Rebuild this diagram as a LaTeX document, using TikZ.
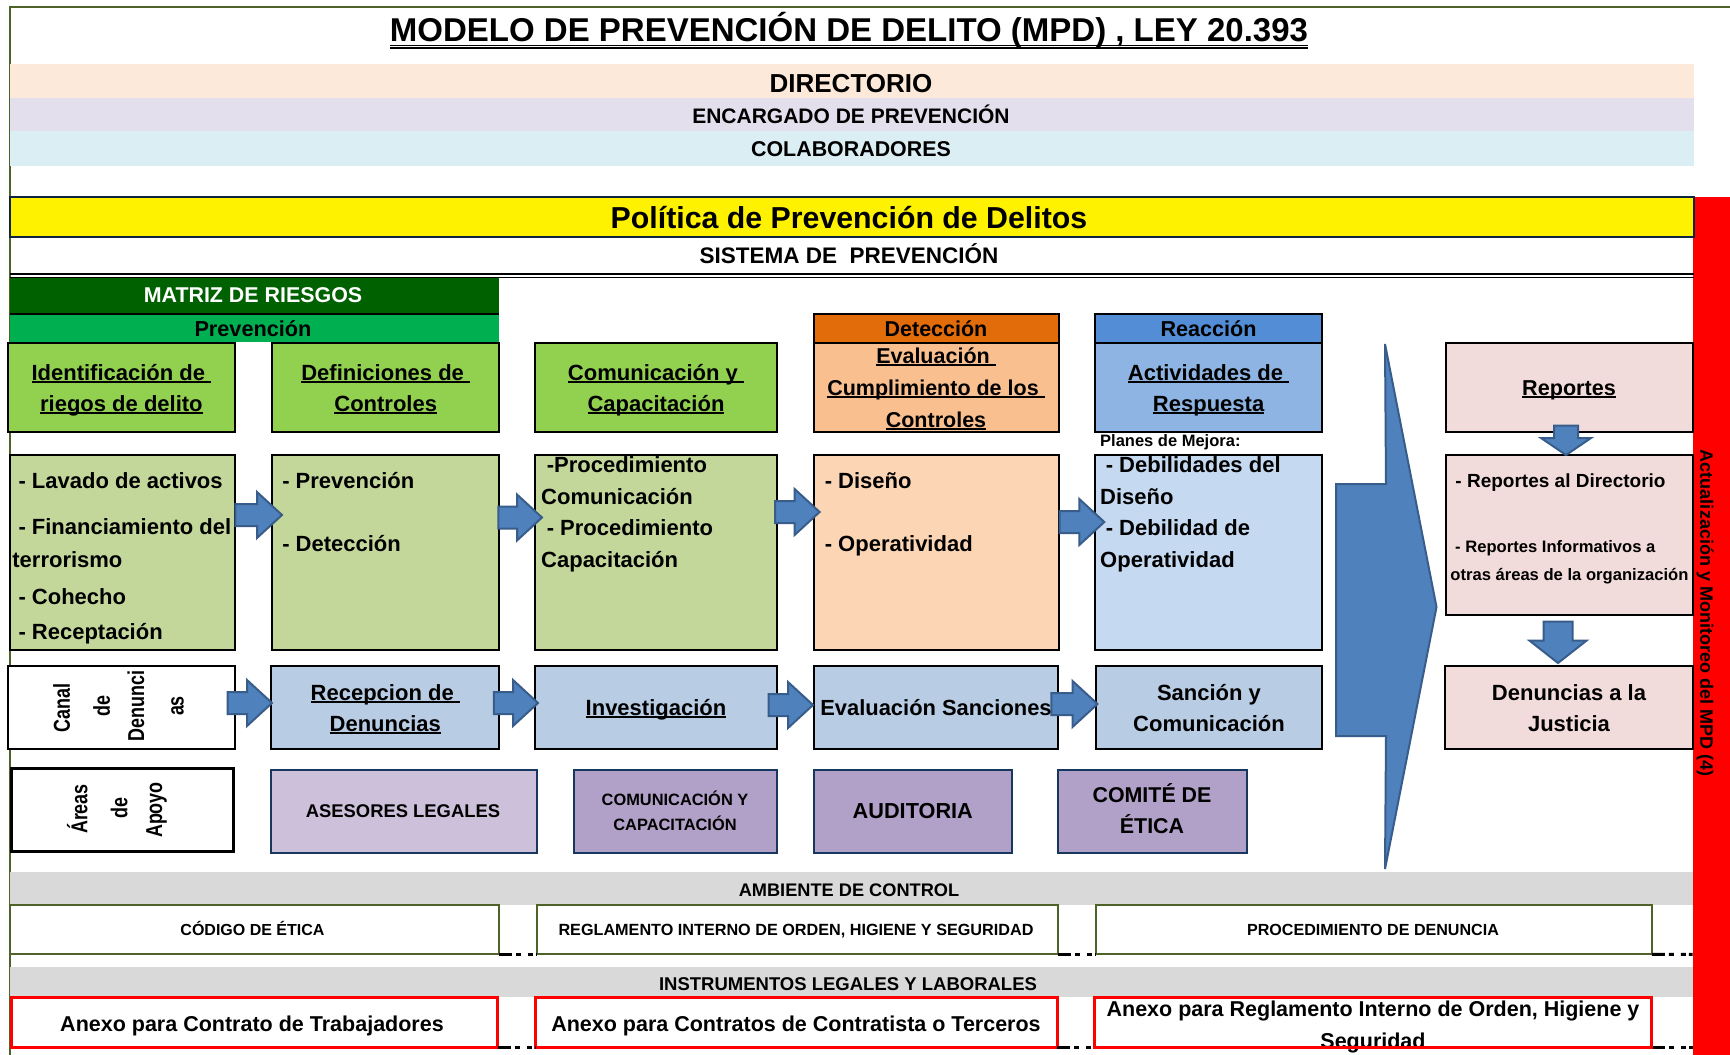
\documentclass[tikz,border=0pt]{standalone}
\usepackage{fontspec}
\setmainfont{Liberation Sans}
\usetikzlibrary{calc}
\definecolor{cOlive}{HTML}{4F6228}
\definecolor{cPeach}{HTML}{FDE9D9}
\definecolor{cLav}{HTML}{E4DFEC}
\definecolor{cLBlue}{HTML}{DAEEF3}
\definecolor{cNavy}{HTML}{0F243E}
\definecolor{cDGreen}{HTML}{006100}
\definecolor{cGreen}{HTML}{00B050}
\definecolor{cLime}{HTML}{92D050}
\definecolor{cLimeL}{HTML}{C4D79B}
\definecolor{cOrange}{HTML}{E26B0A}
\definecolor{cOrM}{HTML}{FABF8F}
\definecolor{cOrL}{HTML}{FCD5B4}
\definecolor{cBlueH}{HTML}{538DD5}
\definecolor{cBlueM}{HTML}{8DB4E2}
\definecolor{cBlueL}{HTML}{C5D9F1}
\definecolor{cBlueC}{HTML}{B8CCE4}
\definecolor{cPink}{HTML}{F2DCDB}
\definecolor{cPurL}{HTML}{CCC0DA}
\definecolor{cPur}{HTML}{B1A0C7}
\definecolor{cPurB}{HTML}{17375E}
\definecolor{cGray}{HTML}{D9D9D9}
\definecolor{cArrow}{HTML}{4F81BD}
\definecolor{cArrowD}{HTML}{385D8A}
\newcommand\fsz[1]{\fontsize{#1pt}{#1pt}\selectfont\bfseries}
\newcommand\narw[1]{\scalebox{0.78}[1]{#1}}
\newsavebox\ulbox
\newcommand\uln[1]{\sbox\ulbox{#1}\rlap{\rule[-2.7pt]{\wd\ulbox}{2pt}}\usebox\ulbox}
\newcommand\bx[6]{\node[bxs,#6,minimum width={#4-#2},minimum height={#5-#3}] (#1) at ({(#2+#4)/2},{(#3+#5)/2}) {};}
\newcommand\rarrow[5]{\draw[barrow] let \p1=($#1+(#3,0)$), \p2=($#2+(#4,0)$), \p3=(0,#5) in
  (\x1,\y3+11pt) -- (\x2-25pt,\y3+11pt) -- (\x2-25pt,\y3+23pt) -- (\x2,\y3) -- (\x2-25pt,\y3-23pt) -- (\x2-25pt,\y3-11pt) -- (\x1,\y3-11pt) -- cycle;}
\newcommand\darrow[8]{\draw[barrow] let \p1=($#1+(0,#3)$), \p2=($#2+(0,#4)$), \p3=(#5,0) in
  (\x3-#6pt,\y1) -- (\x3-#6pt,\y2+#8pt) -- (\x3-#7pt,\y2+#8pt) -- (\x3,\y2) -- (\x3+#7pt,\y2+#8pt) -- (\x3+#6pt,\y2+#8pt) -- (\x3+#6pt,\y1) -- cycle;}
\begin{document}
\begin{tikzpicture}[x=1pt,y=-1pt,
  bxs/.style={inner sep=0pt,outer sep=0pt,line width=2pt},
  blk/.style={draw=black,line width=2pt},
  pur/.style={draw=cPurB,line width=2pt},
  txt/.style={inner sep=0pt,anchor=base,text=black},
  ltxt/.style={inner sep=0pt,anchor=base west,text=black},
  vtxt/.style={inner sep=0pt,anchor=center,rotate=90,text=black},
  barrow/.style={fill=cArrow,draw=cArrowD,line width=2pt,line join=miter},
  ddline/.style={line width=3pt,black,dash pattern=on 13pt off 4pt on 5pt off 7pt on 5pt off 3pt}]
\useasboundingbox (0,0) rectangle (1730,1055);
\fill[white] (0,0) rectangle (1730,1055);
% outer border
\draw[cOlive,line width=2pt] (1730,7) -- (9.5,7) -- (9.5,1055);
% title
\node[txt,font=\fsz{33}] (title) at (849,41.7) {MODELO DE PREVENCIÓN DE DELITO (MPD) , LEY 20.393};
\draw[line width=1.3pt] ([yshift=-3.6pt]title.base west) -- ([yshift=-3.6pt]title.base east);
\draw[line width=1.3pt] ([yshift=-6.2pt]title.base west) -- ([yshift=-6.2pt]title.base east);
% bands
\bx{dir}{9.5}{64}{1694}{97.7}{fill=cPeach}
\bx{enc}{9.5}{97.7}{1694}{131}{fill=cLav}
\bx{col}{9.5}{131}{1694}{165.7}{fill=cLBlue}
\bx{red}{1692.5}{197}{1730}{1056}{fill=red}
\bx{pol}{9.5}{197}{1694}{236.7}{fill=yellow,draw=cNavy}
\bx{sis}{9.5}{236.7}{1694}{274}{}
\draw[line width=1.8pt] (sis.south west) -- (sis.south east);
\draw[line width=1.8pt] ([yshift=-3.5pt]sis.south west) -- ([yshift=-3.5pt]sis.south east);
\bx{mat}{9.5}{277.5}{499.4}{314}{fill=cDGreen}
\bx{prev}{9.5}{314}{499.4}{341.7}{fill=cGreen}
\draw[line width=2pt] (mat.south west) -- (mat.south east);
\bx{det}{814}{314}{1058.5}{342.7}{fill=cOrange,blk}
\bx{reac}{1095.3}{314}{1322}{342.7}{fill=cBlueH,blk}
% top row
\bx{t1}{7.5}{342.7}{235.3}{431.7}{fill=cLime,blk}
\bx{t2}{272}{342.7}{499.4}{431.7}{fill=cLime,blk}
\bx{t3}{535.3}{342.7}{777.2}{431.7}{fill=cLime,blk}
\bx{t4}{814}{342.7}{1058.5}{431.7}{fill=cOrM,blk}
\bx{t5}{1095.3}{342.7}{1322}{431.7}{fill=cBlueM,blk}
\bx{t6}{1445.6}{342.7}{1692.7}{431.7}{fill=cPink,blk}
% lower row
\bx{l1}{10.4}{455}{235.3}{650}{fill=cLimeL,blk}
\bx{l2}{272}{455}{499.4}{650}{fill=cLimeL,blk}
\bx{l3}{535.3}{455}{777.2}{650}{fill=cLimeL,blk}
\bx{l4}{814}{455}{1058.5}{650}{fill=cOrL,blk}
\bx{l5}{1095.3}{455}{1322}{650}{fill=cBlueL,blk}
\bx{l6}{1445.6}{455}{1692.7}{615}{fill=cPink,blk}
% canal row
\bx{c1}{7.5}{665.7}{234.5}{749.3}{fill=white,blk}
\bx{c2}{271.3}{665.7}{499.4}{749.3}{fill=cBlueC,blk}
\bx{c3}{535.4}{665.7}{776.8}{749.3}{fill=cBlueC,blk}
\bx{c4}{814}{665.7}{1058}{749.3}{fill=cBlueC,blk}
\bx{c5}{1095.8}{665.7}{1322}{749.3}{fill=cBlueC,blk}
\bx{c6}{1445.4}{665.7}{1693}{749.3}{fill=cPink,blk}
% areas row
\bx{a1}{11.7}{768.3}{233.3}{851}{fill=white,draw=black,line width=3pt}
\bx{a2}{271.3}{770}{537}{852.7}{fill=cPurL,pur}
\bx{a3}{574.3}{770}{776.8}{852.7}{fill=cPur,pur}
\bx{a4}{814}{770}{1011.5}{852.7}{fill=cPur,pur}
\bx{a5}{1058}{770}{1246.7}{852.7}{fill=cPur,pur}
% bottom bands
\bx{amb}{9.5}{872.3}{1692.5}{905}{fill=cGray}
\bx{e1}{9.5}{905}{499.4}{954.3}{fill=white,draw=cOlive}
\bx{e2}{536.5}{905}{1058}{954.3}{fill=white,draw=cOlive}
\bx{e3}{1095.8}{905}{1651.8}{954.3}{fill=white,draw=cOlive}
\bx{ins}{9.5}{967.3}{1692.5}{997.3}{fill=cGray}
\bx{n1}{11}{997.7}{497.7}{1047.7}{fill=white,draw=red,line width=3pt}
\bx{n2}{535.4}{997.7}{1057}{1047.7}{fill=white,draw=red,line width=3pt}
\bx{n3}{1094.7}{997.7}{1651.8}{1047.7}{fill=white}
\coordinate (re1) at (1692.5,954.3);
\coordinate (re2) at (1692.5,1047.7);
\draw[ddline] (e1.south east) -- (e2.south west);
\draw[ddline] (e2.south east) -- (e3.south west);
\draw[ddline] (e3.south east) -- (re1);
\draw[ddline] (n1.south east) -- (n2.south west);
\draw[ddline] (n2.south east) -- (n3.south west);
\draw[ddline] (n3.south east) -- (re2);
% arrows
\rarrow{(l1.east)}{(l2.west)}{0}{10}{515}
\rarrow{(l2.east)}{(l3.west)}{-1}{6.7}{517.5}
\rarrow{(l3.east)}{(l4.west)}{-2}{5.6}{512}
\rarrow{(l4.east)}{(l5.west)}{1}{9}{522}
\rarrow{(c1.east)}{(c2.west)}{-7}{0.7}{703}
\rarrow{(c2.east)}{(c3.west)}{-5.6}{2.6}{703}
\rarrow{(c3.east)}{(c4.west)}{-8.3}{-1}{705}
\rarrow{(c4.east)}{(c5.west)}{-6.6}{1.7}{704}
\darrow{(t6.south)}{(l6.north)}{-6}{0}{1566}{12}{25}{17}
\darrow{(l6.south)}{(c6.north)}{6.7}{-2.7}{1558}{14.5}{28.4}{22.3}
\draw[barrow] (1336,484) -- (1386,484) -- (1385,344) -- (1436.5,607) -- (1385,869) -- (1386,736) -- (1336,736) -- cycle;
% header texts
\node[txt,font=\fsz{26}] (tdir) at (851,92) {DIRECTORIO};
\node[txt,font=\fsz{21}] (tenc) at (851,123.3) {ENCARGADO DE PREVENCIÓN};
\node[txt,font=\fsz{21.4}] (tcol) at (851,156) {COLABORADORES};
\node[txt,font=\fsz{30.3}] (tpol) at (849,228.3) {Política de Prevención de Delitos};
\node[txt,font=\fsz{22.5}] (tsis) at (849,263.3) {SISTEMA DE\ \ PREVENCIÓN};
\node[txt,font=\fsz{21.4},text=white] (tmat) at (253,302.7) {MATRIZ DE RIESGOS};
\node[txt,font=\fsz{21.7}] (tprev) at (253,336.7) {Prevención};
\node[txt,font=\fsz{21.5}] (tdet) at (936,336.7) {Detección};
\node[txt,font=\fsz{21.6}] (treac) at (1208.6,336.7) {Reacción};
% top row texts
\node[txt,font=\fsz{22}] (t1a) at (121.4,380) {\uln{Identificación de\ }};
\node[txt,font=\fsz{22}] (t1b) at (121.4,411.5) {\uln{riegos de delito}};
\node[txt,font=\fsz{22}] (t2a) at (385.7,380) {\uln{Definiciones de\ }};
\node[txt,font=\fsz{22}] (t2b) at (385.7,411.5) {\uln{Controles}};
\node[txt,font=\fsz{22}] (t3a) at (656,380) {\uln{Comunicación y\ }};
\node[txt,font=\fsz{22}] (t3b) at (656,411.5) {\uln{Capacitación}};
\node[txt,font=\fsz{21.5}] (t4a) at (936,363.5) {\uln{Evaluación\ }};
\node[txt,font=\fsz{21.5}] (t4b) at (936,395.7) {\uln{Cumplimiento de los\ }};
\node[txt,font=\fsz{21.5}] (t4c) at (936,427.3) {\uln{Controles}};
\node[txt,font=\fsz{22}] (t5a) at (1208.6,380) {\uln{Actividades de\ }};
\node[txt,font=\fsz{22}] (t5b) at (1208.6,411.5) {\uln{Respuesta}};
\node[txt,font=\fsz{21.6}] (t6a) at (1569,395.7) {\uln{Reportes}};
% lower row texts
\node[ltxt,font=\fsz{22}] (l1a) at (12.2,488.3) {\ - Lavado de activos};
\node[ltxt,font=\fsz{22}] (l1b) at (12.2,534) {\ - Financiamiento del};
\node[ltxt,font=\fsz{22}] (l1c) at (12.2,567.3) {terrorismo};
\node[ltxt,font=\fsz{22}] (l1d) at (12.2,604) {\ - Cohecho};
\node[ltxt,font=\fsz{22}] (l1e) at (12.2,639.3) {\ - Receptación};
\node[ltxt,font=\fsz{22}] (l2a) at (276,488.3) {\ - Prevención};
\node[ltxt,font=\fsz{22}] (l2b) at (276,551.7) {\ - Detección};
\node[ltxt,font=\fsz{22}] (l3a) at (540.5,472.7) {\ -Procedimiento};
\node[ltxt,font=\fsz{22}] (l3b) at (541,504.3) {Comunicación};
\node[ltxt,font=\fsz{22}] (l3c) at (540.5,535) {\ - Procedimiento};
\node[ltxt,font=\fsz{22}] (l3d) at (541,567.3) {Capacitación};
\node[ltxt,font=\fsz{22}] (l4a) at (818.5,488.3) {\ - Diseño};
\node[ltxt,font=\fsz{22}] (l4b) at (818.5,551.7) {\ - Operatividad};
\node[ltxt,font=\fsz{16.5}] (plan) at (1100,446.7) {Planes de Mejora:};
\node[ltxt,font=\fsz{22}] (l5a) at (1099.5,472.7) {\ - Debilidades del};
\node[ltxt,font=\fsz{22}] (l5b) at (1100,504.3) {Diseño};
\node[ltxt,font=\fsz{22}] (l5c) at (1099.5,535) {\ - Debilidad de};
\node[ltxt,font=\fsz{22}] (l5d) at (1100,567.3) {Operatividad};
\node[ltxt,font=\fsz{19}] (l6a) at (1450,487.7) {\ - Reportes al Directorio};
\node[ltxt,font=\fsz{16.6}] (l6b) at (1450.4,552.7) {\ - Reportes Informativos a};
\node[ltxt,font=\fsz{16.6}] (l6c) at (1450.2,580) {otras áreas de la organización};
% canal row texts
\node[vtxt,font=\fsz{23}] (cw1) at (61.7,707.8) {\narw{Canal}};
\node[vtxt,font=\fsz{23}] (cw2) at (101.7,706) {\narw{de}};
\node[vtxt,font=\fsz{23}] (cw3) at (136,706) {\narw{Denunci}};
\node[vtxt,font=\fsz{23}] (cw4) at (177.5,706) {\narw{as}};
\node[txt,font=\fsz{22}] (c2a) at (385.3,700) {\uln{Recepcion de\ }};
\node[txt,font=\fsz{22}] (c2b) at (385.3,731.7) {\uln{Denuncias}};
\node[txt,font=\fsz{22}] (c3a) at (656,715.7) {\uln{Investigación}};
\node[txt,font=\fsz{21.9}] (c4a) at (936,715.7) {Evaluación Sanciones};
\node[txt,font=\fsz{22}] (c5a) at (1209,700) {Sanción y};
\node[txt,font=\fsz{22}] (c5b) at (1209,731.7) {Comunicación};
\node[txt,font=\fsz{22}] (c6a) at (1569,700) {Denuncias a la};
\node[txt,font=\fsz{22}] (c6b) at (1569,731.7) {Justicia};
% areas row texts
\node[vtxt,font=\fsz{23}] (aw1) at (77.2,809) {\narw{Áreas}};
\node[vtxt,font=\fsz{23}] (aw2) at (119.2,808.3) {\narw{de}};
\node[vtxt,font=\fsz{23}] (aw3) at (156.7,810) {\narw{Apoyo}};
\node[txt,font=\fsz{18.4}] (a2a) at (403,817.3) {ASESORES LEGALES};
\node[txt,font=\fsz{16.4}] (a3a) at (675,805) {COMUNICACIÓN Y};
\node[txt,font=\fsz{16.4}] (a3b) at (675,830) {CAPACITACIÓN};
\node[txt,font=\fsz{21.7}] (a4a) at (912.8,818.3) {AUDITORIA};
\node[txt,font=\fsz{21.4}] (a5a) at (1152,802.7) {COMITÉ DE};
\node[txt,font=\fsz{21.4}] (a5b) at (1152,833.3) {ÉTICA};
% bottom texts
\node[txt,font=\fsz{18.2}] (tamb) at (849,896) {AMBIENTE DE CONTROL};
\node[txt,font=\fsz{16}] (te1) at (252.5,935) {CÓDIGO DE ÉTICA};
\node[txt,font=\fsz{16.2}] (te2) at (796,935) {REGLAMENTO INTERNO DE ORDEN, HIGIENE Y SEGURIDAD};
\node[txt,font=\fsz{16.1}] (te3) at (1373,935) {PROCEDIMIENTO DE DENUNCIA};
\node[txt,font=\fsz{18.5}] (tins) at (848,990) {INSTRUMENTOS LEGALES Y LABORALES};
\node[txt,font=\fsz{21.5}] (tn1) at (252,1031.7) {Anexo para Contrato de Trabajadores};
\node[txt,font=\fsz{21.5}] (tn2) at (796,1031.7) {Anexo para Contratos de Contratista o Terceros};
\node[txt,font=\fsz{21.5}] (tn3a) at (1373,1016.7) {Anexo para Reglamento Interno de Orden, Higiene y};
\node[txt,font=\fsz{21.5}] (tn3b) at (1373,1048) {Seguridad};
\draw[red,line width=3pt] (n3.north west) rectangle (n3.south east);
% red band text
\node[inner sep=0pt,anchor=center,rotate=-90,font=\fsz{18}] (tact) at (1705,613) {Actualización y Monitoreo del MPD (4)};
\end{tikzpicture}
\end{document}
